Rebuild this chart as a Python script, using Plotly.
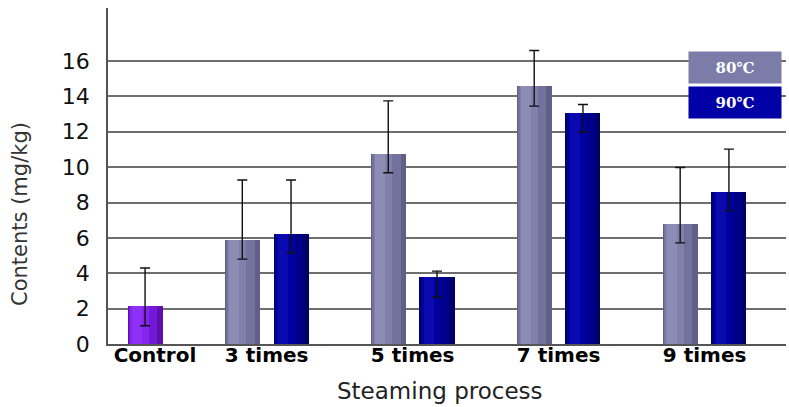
import numpy as np
import plotly.graph_objects as go

# Steaming treatments (x categories)
categories = ["Control", "3 times", "5 times", "7 times", "9 times"]

# Control sample (mg/kg) with asymmetric error bars
control = [2.15, None, None, None, None]
control_err_up = [2.15, None, None, None, None]
control_err_down = [1.12, None, None, None, None]

# 80 °C steaming
s80 = [None, 5.86, 10.75, 14.58, 6.76]
s80_err_up = [None, 3.41, 3.00, 2.02, 3.22]
s80_err_down = [None, 1.06, 1.07, 1.13, 1.04]

# 90 °C steaming
s90 = [None, 6.23, 3.77, 13.07, 8.59]
s90_err_up = [None, 3.04, 0.35, 0.47, 2.43]
s90_err_down = [None, 1.07, 1.13, 1.07, 1.06]

y_ticks = [0, 2, 4, 6, 8, 10, 12, 14, 16]
legend_labels = ["80\u2103", "90\u2103"]
x_title = "Steaming process"
y_title = "Contents (mg/kg)"

x = np.arange(len(categories), dtype=float)
BAR_W = 0.24
OFF_80 = -0.287
OFF_90 = 0.047

fig = go.Figure()


def shaded_bar(values, offset, shades, err_up, err_down):
    """Draw a bar series as a few overlaid layers for a cylinder-like shading,
    then put the error bars on top at the bar centres."""
    for start, end, color in shades:
        fig.add_trace(go.Bar(
            x=x, y=values, offset=offset + start * BAR_W, width=(end - start) * BAR_W,
            marker=dict(color=color, line=dict(width=0)),
            showlegend=False, hoverinfo="skip",
        ))
    up = [u if u is not None else 0 for u in err_up]
    dn = [d if d is not None else 0 for d in err_down]
    fig.add_trace(go.Scatter(
        x=x + offset + BAR_W / 2, y=values, mode="markers",
        marker=dict(size=1, color="rgba(0,0,0,0)"),
        error_y=dict(type="data", symmetric=False, array=up, arrayminus=dn,
                     color="#111111", thickness=1.4, width=5),
        showlegend=False, hoverinfo="skip",
    ))


shaded_bar(control, OFF_90,
           [(0, 1, "#5e0fb0"), (0.04, 0.85, "#7418d8"), (0.08, 0.6, "#8424ee"), (0.12, 0.4, "#8e30f6")],
           control_err_up, control_err_down)
shaded_bar(s80, OFF_80,
           [(0, 1, "#5f5f88"), (0.04, 0.85, "#72729c"), (0.08, 0.62, "#8080aa"), (0.12, 0.42, "#8c8cb4")],
           s80_err_up, s80_err_down)
shaded_bar(s90, OFF_90,
           [(0, 1, "#00006a"), (0.04, 0.85, "#00008a"), (0.08, 0.62, "#00009e"), (0.12, 0.42, "#0a0ab0")],
           s90_err_up, s90_err_down)

# Tick positions: the Control label is nudged right so it clears the y axis
tick_pos = x.copy()
tick_pos[0] += 0.235

fig.update_layout(
    width=789, height=407,
    margin=dict(l=108, r=3, t=8, b=63),
    paper_bgcolor="white", plot_bgcolor="white",
    barmode="overlay", bargap=0,
    font=dict(family="DejaVu Sans", color="#111111"),
    xaxis=dict(
        range=[-0.087, 4.558], tickvals=tick_pos, ticktext=categories,
        tickfont=dict(family="DejaVu Sans", size=20, color="#000000", weight="bold"),
        showgrid=False, zeroline=False, showline=True, linecolor="#555555", linewidth=1.5,
        ticks="", ticklabelstandoff=-8,
        automargin=False,
    ),
    yaxis=dict(
        range=[0, 19], tickvals=y_ticks,
        tickfont=dict(family="DejaVu Sans", size=22, color="#111111"),
        showgrid=True, gridcolor="#6e6e6e", gridwidth=1.5,
        zeroline=False, showline=True, linecolor="#555555", linewidth=1.5,
        ticks="", ticklabelstandoff=12,
        automargin=False,
    ),
)

# Axis titles
fig.add_annotation(xref="paper", yref="paper", x=0.49, y=-0.14,
                   xanchor="center", yanchor="middle", showarrow=False,
                   text=x_title, font=dict(size=23, color="#222222"))
fig.add_annotation(xref="paper", yref="paper", x=-0.1298, y=0.387,
                   xanchor="center", yanchor="middle", showarrow=False, textangle=-90,
                   text=y_title, font=dict(size=21, color="#333333"))

# Legend boxes drawn as labelled rectangles at the upper right
legend_colors = ["#7c7ca8", "#0000a6"]
legend_y = [0.823, 0.719]
for label, color, ly in zip(legend_labels, legend_colors, legend_y):
    fig.add_annotation(
        xref="paper", yref="paper", x=0.925, y=ly, xanchor="center", yanchor="middle",
        text="<b>" + label + "</b>", showarrow=False,
        font=dict(family="DejaVu Serif", size=15, color="white"),
        bgcolor=color, width=92, height=31, borderpad=0,
    )

fig.write_html("out.html")
